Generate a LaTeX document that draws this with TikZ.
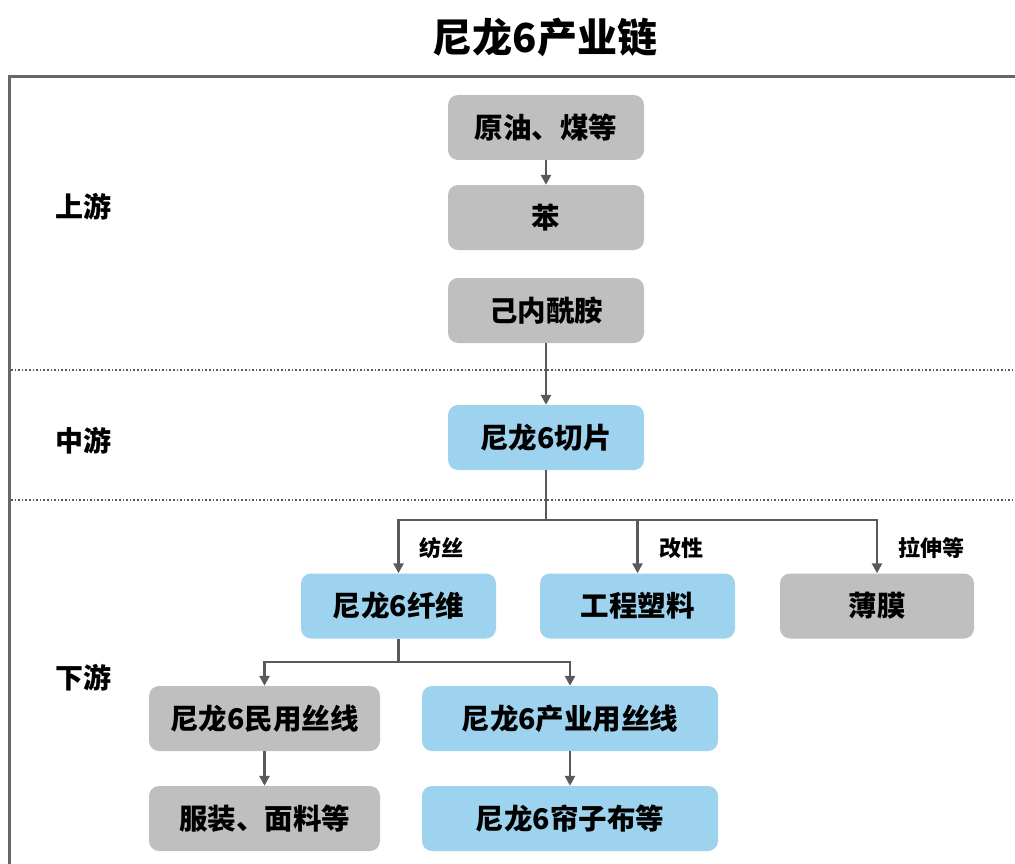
\documentclass[tikz,border=0pt]{standalone}
\usepackage{fontspec}
\setmainfont{Noto Sans CJK SC}
\usetikzlibrary{arrows.meta}
\definecolor{boxgray}{HTML}{BFBFBF}
\definecolor{boxblue}{HTML}{9DD3EE}
\definecolor{linegray}{HTML}{595959}
\definecolor{framegray}{HTML}{666666}
\tikzset{
  box/.style={rounded corners=10pt, minimum height=65pt, inner sep=0pt, font=\fontsize{28.5}{30}\selectfont\bfseries, text=black},
  graybox/.style={box, fill=boxgray},
  bluebox/.style={box, fill=boxblue},
  conn/.style={draw=linegray, line width=2.8pt},
  arr/.style={conn, -{Triangle[length=10pt,width=10pt]}},
  lbl/.style={font=\fontsize{22}{24}\selectfont\bfseries, anchor=west},
  stage/.style={font=\fontsize{28}{30}\selectfont\bfseries},
}
\begin{document}
\begin{tikzpicture}[x=1pt,y=-1pt]
\useasboundingbox (0,0) rectangle (1015,864);
% frame
\draw[framegray, line width=3pt] (9.5,900) -- (9.5,76.5) -- (1020,76.5);
\draw[linegray, line width=1.6pt, dotted] (11,370) -- (1015,370);
\draw[linegray, line width=1.6pt, dotted] (11,500) -- (1015,500);
% title
\node[font=\fontsize{40}{42}\selectfont\bfseries] (title) at (545,37) {尼龙6产业链};
% stage labels
\node[stage] (up) at (83,207) {上游};
\node[stage] (mid) at (83,441) {中游};
\node[stage] (down) at (83,678) {下游};
% boxes
\node[graybox, minimum width=196pt] (oil) at (546,127.5) {原油、煤等};
\node[graybox, minimum width=196pt] (benz) at (546,217.5) {苯};
\node[graybox, minimum width=196pt] (capro) at (546,310.5) {己内酰胺};
\node[bluebox, minimum width=196pt] (chip) at (546,437.5) {尼龙6切片};
\node[bluebox, minimum width=195pt] (fiber) at (398.5,606) {尼龙6纤维};
\node[bluebox, minimum width=195pt] (plastic) at (637.5,606) {工程塑料};
\node[graybox, minimum width=194pt] (film) at (877,606) {薄膜};
\node[graybox, minimum width=231pt] (civil) at (264.5,718.5) {尼龙6民用丝线};
\node[bluebox, minimum width=296pt] (indus) at (570,718.5) {尼龙6产业用丝线};
\node[graybox, minimum width=231pt] (cloth) at (264.5,818.5) {服装、面料等};
\node[bluebox, minimum width=296pt] (cord) at (570,818.5) {尼龙6帘子布等};
% connectors
\draw[arr] (oil) -- (benz);
\draw[arr] (capro) -- (chip);
\coordinate (j1) at (546,520);
\draw[conn] (chip.south) -- (j1);
\draw[arr] (j1) -| (fiber.north);
\draw[arr] (j1) -| (plastic.north);
\draw[arr] (j1) -| (film.north);
\coordinate (j2) at (398.5,662);
\draw[conn] (fiber.south) -- (j2);
\draw[arr] (j2) -| (civil.north);
\draw[arr] (j2) -| (indus.north);
\draw[arr] (civil) -- (cloth);
\draw[arr] (indus) -- (cord);
% branch labels
\node[lbl] (l1) at (416,548) {纺丝};
\node[lbl] (l2) at (656,548) {改性};
\node[lbl] (l3) at (895,548) {拉伸等};
\end{tikzpicture}
\end{document}
